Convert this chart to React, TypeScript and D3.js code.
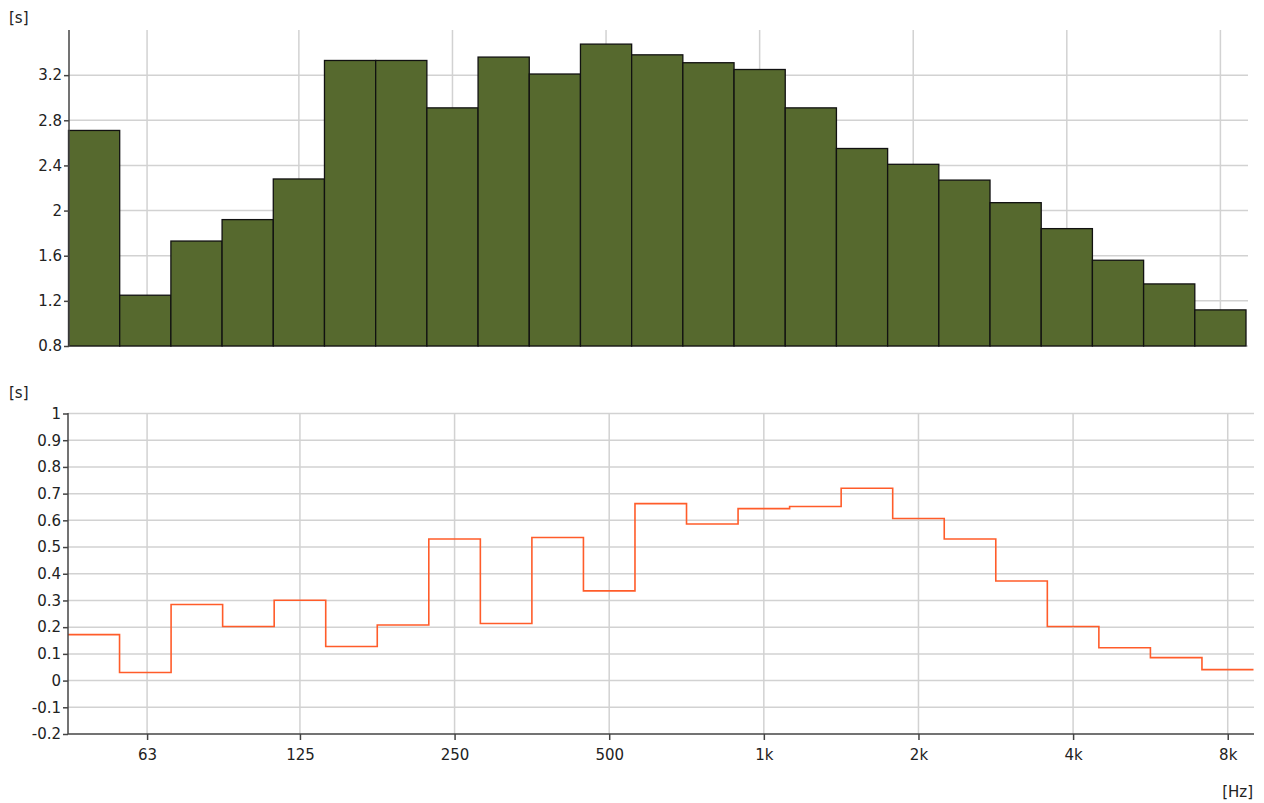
import React, { useEffect, useRef } from 'react';
import * as d3 from 'd3';

// 1/3 octave bands, 50 Hz .. 8 kHz
const bands = ['50', '63', '80', '100', '125', '160', '200', '250', '315', '400', '500', '630', '800',
  '1k', '1.25k', '1.6k', '2k', '2.5k', '3.15k', '4k', '5k', '6.3k', '8k'];
const reverbTimes = [2.71, 1.25, 1.73, 1.92, 2.28, 3.33, 3.33, 2.91, 3.36, 3.21, 3.475, 3.38, 3.31,
  3.25, 2.91, 2.55, 2.41, 2.27, 2.07, 1.84, 1.56, 1.35, 1.12];
const deviation = [0.172, 0.03, 0.285, 0.2025, 0.301, 0.1275, 0.208, 0.53, 0.214, 0.536, 0.336, 0.6625,
  0.586, 0.644, 0.652, 0.72, 0.607, 0.53, 0.373, 0.2025, 0.123, 0.086, 0.041];
const freqTicks = [63, 125, 250, 500, 1000, 2000, 4000, 8000];
const freqLabels = ['63', '125', '250', '500', '1k', '2k', '4k', '8k'];
const topTicks = [0.8, 1.2, 1.6, 2, 2.4, 2.8, 3.2];
const bottomTicks = [-0.2, -0.1, 0, 0.1, 0.2, 0.3, 0.4, 0.5, 0.6, 0.7, 0.8, 0.9, 1];

const FONT = '"DejaVu Sans", sans-serif';
const GRID = '#d2d2d2';
const AXIS = '#444';

// exact band centre and edges from index (band 13 = 1 kHz)
const centre = (i: number) => 1000 * Math.pow(2, (i - 13) / 3);
const lowEdge = (i: number) => centre(i) * Math.pow(2, -1 / 6);
const highEdge = (i: number) => centre(i) * Math.pow(2, 1 / 6);

export default function App() {
  const ref = useRef<SVGSVGElement>(null);

  useEffect(() => {
    const svg = d3.select(ref.current);
    svg.selectAll('*').remove();

    const fDomain = [lowEdge(0), highEdge(bands.length - 1)];

    // ---------- top panel: bars ----------
    const x1 = d3.scaleLog().domain(fDomain).range([68.5, 1246]);
    const y1 = d3.scaleLinear().domain([0.8, 3.6]).range([346, 30]);
    const top = svg.append('g');

    top.selectAll('line.hg').data(topTicks).enter().append('line')
      .attr('x1', 69).attr('x2', 1248)
      .attr('y1', d => y1(d)).attr('y2', d => y1(d))
      .attr('stroke', GRID).attr('stroke-width', 1.5);
    top.selectAll('line.vg').data(freqTicks).enter().append('line')
      .attr('x1', d => x1(d)).attr('x2', d => x1(d))
      .attr('y1', 30).attr('y2', 346)
      .attr('stroke', GRID).attr('stroke-width', 1.5);

    top.selectAll('rect').data(reverbTimes).enter().append('rect')
      .attr('x', (d, i) => x1(lowEdge(i)))
      .attr('width', (d, i) => x1(highEdge(i)) - x1(lowEdge(i)))
      .attr('y', d => y1(d))
      .attr('height', d => y1(0.8) - y1(d))
      .attr('fill', '#56692e')
      .attr('stroke', '#111')
      .attr('stroke-width', 1.3);

    const yAxis1 = d3.axisLeft(y1).tickValues(topTicks).tickSize(5).tickFormat(d => String(d));
    const ya1 = top.append('g').attr('transform', 'translate(69,0)').call(yAxis1);
    ya1.select('.domain').attr('stroke', AXIS).attr('stroke-width', 1.5).attr('d', 'M0,30V346');
    ya1.selectAll('.tick line').attr('stroke', AXIS).attr('stroke-width', 1.5);
    ya1.selectAll('text').attr('font-family', FONT).attr('font-size', 15).attr('fill', '#222').attr('x', -7);

    top.append('text').attr('x', 9).attr('y', 23).text('[s]')
      .attr('font-family', FONT).attr('font-size', 15).attr('fill', '#222');

    // ---------- bottom panel: step line ----------
    const x2 = d3.scaleLog().domain(fDomain).range([68, 1253.5]);
    const y2 = d3.scaleLinear().domain([-0.2, 1]).range([734, 413.5]);
    const bot = svg.append('g');

    bot.selectAll('line.hg').data(bottomTicks.filter(d => d > -0.2)).enter().append('line')
      .attr('x1', 68).attr('x2', 1254)
      .attr('y1', d => y2(d)).attr('y2', d => y2(d))
      .attr('stroke', GRID).attr('stroke-width', 1.5);
    bot.selectAll('line.vg').data(freqTicks).enter().append('line')
      .attr('x1', d => x2(d)).attr('x2', d => x2(d))
      .attr('y1', 413).attr('y2', 734)
      .attr('stroke', GRID).attr('stroke-width', 1.5);

    const pts: [number, number][] = deviation.map((v, i) => [lowEdge(i), v]);
    pts.push([highEdge(deviation.length - 1), deviation[deviation.length - 1]]);
    const line = d3.line<[number, number]>()
      .x(d => x2(d[0]))
      .y(d => y2(d[1]))
      .curve(d3.curveStepAfter);
    bot.append('path').attr('d', line(pts) || '')
      .attr('fill', 'none').attr('stroke', '#ff5c2a').attr('stroke-width', 1.6);

    const yAxis2 = d3.axisLeft(y2).tickValues(bottomTicks).tickSize(5).tickFormat(d => String(d));
    const ya2 = bot.append('g').attr('transform', 'translate(68,0)').call(yAxis2);
    ya2.select('.domain').attr('stroke', AXIS).attr('stroke-width', 1.5).attr('d', 'M0,413V734');
    ya2.selectAll('.tick line').attr('stroke', AXIS).attr('stroke-width', 1.5);
    ya2.selectAll('text').attr('font-family', FONT).attr('font-size', 15).attr('fill', '#222').attr('x', -7);

    const xAxis2 = d3.axisBottom(x2).tickValues(freqTicks).tickSize(6)
      .tickFormat((d, i) => freqLabels[i]);
    const xa2 = bot.append('g').attr('transform', 'translate(0,734)').call(xAxis2);
    xa2.select('.domain').attr('stroke', AXIS).attr('stroke-width', 1.5).attr('d', 'M68,0H1254');
    xa2.selectAll('.tick line').attr('stroke', AXIS).attr('stroke-width', 1.5);
    xa2.selectAll('text').attr('font-family', FONT).attr('font-size', 15).attr('fill', '#222').attr('dy', '1.1em');

    bot.append('text').attr('x', 9).attr('y', 398).text('[s]')
      .attr('font-family', FONT).attr('font-size', 15).attr('fill', '#222');
    bot.append('text').attr('x', 1253).attr('y', 797).attr('text-anchor', 'end').text('[Hz]')
      .attr('font-family', FONT).attr('font-size', 15).attr('fill', '#222');
  }, []);

  return (
    <svg ref={ref} width={1264} height={803}
      style={{ position: 'absolute', left: 0, top: 0, background: '#fff' }} />
  );
}
